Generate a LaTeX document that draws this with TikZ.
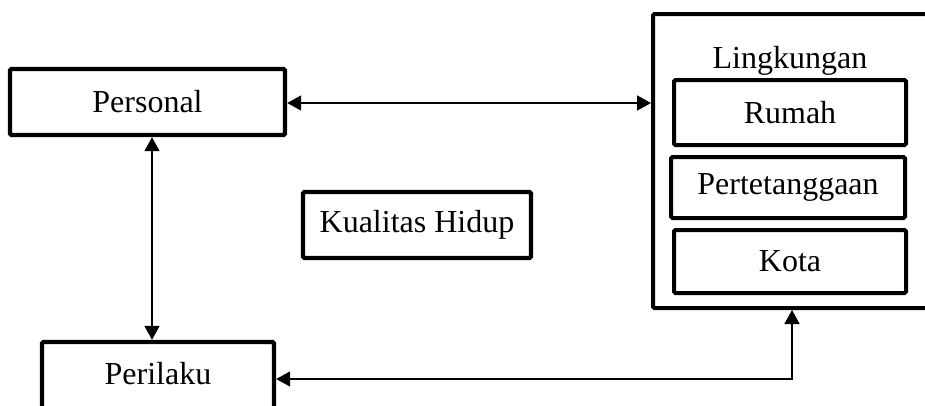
\documentclass[tikz,border=0pt]{standalone}
\usepackage{fontspec}
\setmainfont{Liberation Serif}
\usetikzlibrary{arrows.meta}
\begin{document}
\begin{tikzpicture}[x=1pt,y=-1pt,
  box/.style={draw, line width=4.4pt, rounded corners=1.5pt, inner sep=0pt,
    font=\fontsize{32}{38}\selectfont},
  ibox/.style={box, line width=4pt},
  link/.style={line width=1.7pt, {Triangle[length=14pt,width=15pt]}-{Triangle[length=14pt,width=15pt]}}]
\useasboundingbox (0,0) rectangle (925,405);
\node[box, minimum width=275pt, minimum height=66pt] (personal) at (147.5,102) {Personal};
\node[box, minimum width=232pt, minimum height=74pt, text depth=11pt] (perilaku) at (158,379) {Perilaku};
\node[box, minimum width=228pt, minimum height=66pt] (kualitas) at (417,225) {Kualitas Hidup};
\node[draw, line width=4pt, rounded corners=1.5pt, minimum width=300pt, minimum height=294pt, inner sep=0pt] (env) at (803,161) {};
\node[font=\fontsize{32}{38}\selectfont, inner sep=0pt] (ling) at (790,61) {Lingkungan};
\node[ibox, minimum width=232pt, minimum height=65pt] (rumah) at (790,112.5) {Rumah};
\node[ibox, minimum width=234pt, minimum height=61pt] (tetangga) at (788,187.5) {Pertetanggaan};
\node[ibox, minimum width=232pt, minimum height=63pt] (kota) at (790,261.5) {Kota};
\coordinate (ax) at (152,0);
\coordinate (bx) at (792,0);
\coordinate (py) at (0,103);
\draw[link] (personal.east |- py) -- (env.west |- py);
\draw[link] (personal.south -| ax) -- (perilaku.north -| ax);
\draw[link] (env.south -| bx) |- (perilaku.east);
\end{tikzpicture}
\end{document}
